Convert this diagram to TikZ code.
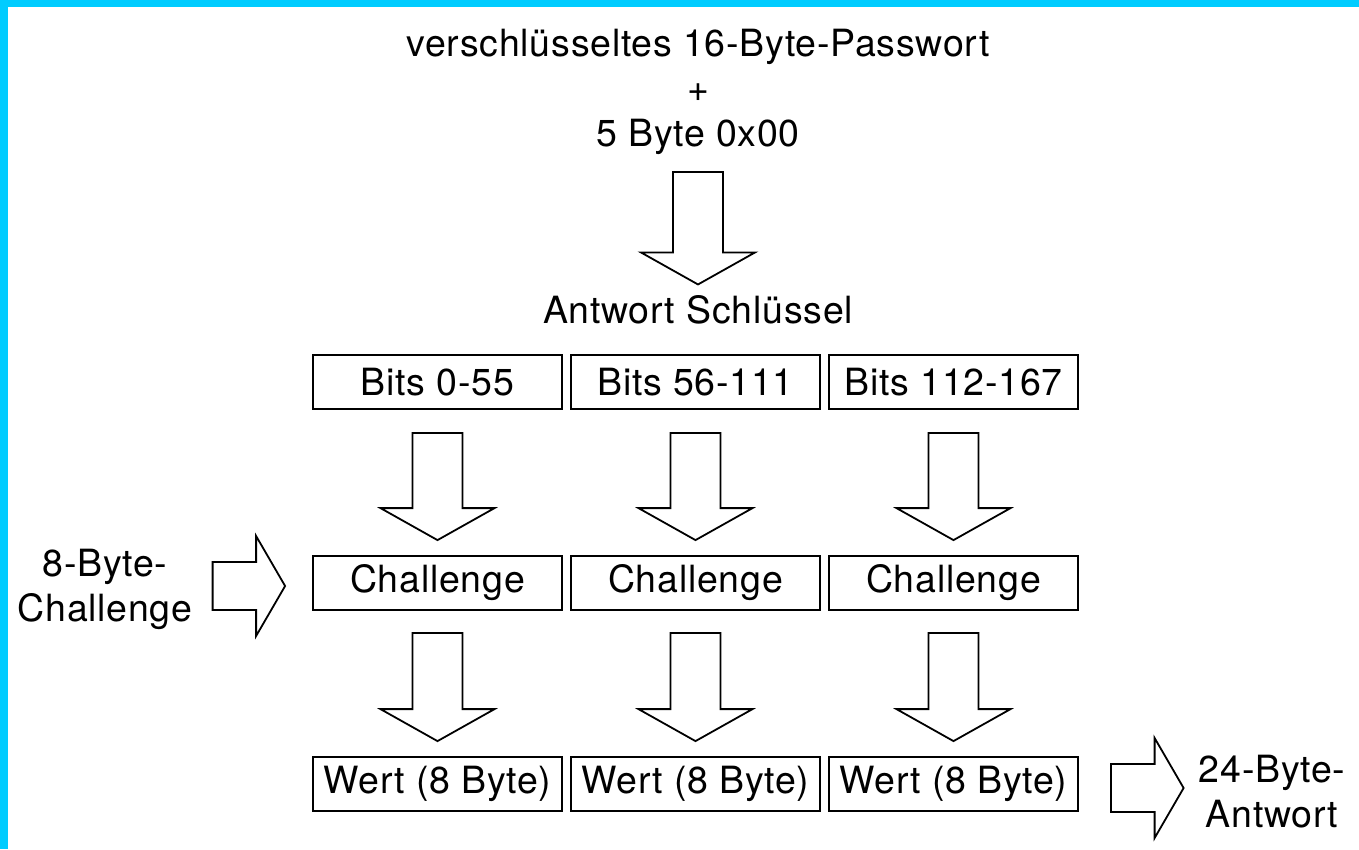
\documentclass[tikz,border=0pt]{standalone}
\usepackage{fontspec}
\setmainfont{TeX Gyre Heros}[LetterSpace=2]
\usepackage{tikz}
\usetikzlibrary{calc}
\definecolor{framecyan}{RGB}{0,204,255}
\tikzstyle{field} = [rectangle, minimum width=249pt, minimum height=54pt, text centered, draw=black, line width=1.8pt]
\tikzstyle{plaintext} = [align=center, inner sep=0pt]
\tikzstyle{fatdown} = [draw=black, line width=1.8pt, to path={let \p1=(\tikztostart), \p2=(\tikztotarget) in
  (\x1-25,\y1) -- (\x1+25,\y1) -- (\x1+25,\y2+32) -- (\x1+57,\y2+32) -- (\x1,\y2) -- (\x1-57,\y2+32) -- (\x1-25,\y2+32) -- cycle}]
\tikzstyle{fatright} = [draw=black, line width=1.8pt, to path={let \p1=(\tikztostart), \p2=(\tikztotarget), \p3=($(\tikztostart)!.5!(\tikztotarget)$) in
  (\x1,\y3+24) -- (\x2-29,\y3+24) -- (\x2-29,\y3+50) -- (\x2,\y3) -- (\x2-29,\y3-50) -- (\x2-29,\y3-24) -- (\x1,\y3-24) -- cycle}]

\begin{document}
\begin{tikzpicture}[x=1pt, y=-1pt, node distance=201pt, font=\fontsize{37.5}{45}\selectfont]
      \useasboundingbox (0,0) rectangle (1359,849);
      \fill[white] (0,0) rectangle (1359,849);
      \fill[framecyan] (0,0) rectangle (1359,7);
      \fill[framecyan] (0,0) rectangle (8,849);

      \node (pw)[plaintext] at (698,92) {verschlüsseltes 16-Byte-Passwort\\+\\5 Byte 0x00};
      \node (ak)[plaintext] at (698,310) {Antwort Schlüssel};

      \node (b1)[field] at (437.5,382) {Bits 0-55};
      \node (b2)[field, right of=b1, xshift=57pt] {Bits 56-111};
      \node (b3)[field, right of=b2, xshift=57pt] {Bits 112-167};
      \node (c1)[field, below of=b1] {Challenge};
      \node (c2)[field, below of=b2] {Challenge};
      \node (c3)[field, below of=b3] {Challenge};
      \node (w1)[field, below of=c1] {Wert (8 Byte)};
      \node (w2)[field, below of=c2] {Wert (8 Byte)};
      \node (w3)[field, below of=c3] {Wert (8 Byte)};

      \node (lc)[plaintext] at (105,589) {8-Byte-\\Challenge};
      \node (ra)[plaintext] at (1272,792) {24-Byte-\\Antwort};

      \draw [fatdown]([yshift=-17pt]pw.south) to ([yshift=11pt]ak.north);
      \draw [fatdown]([yshift=-23pt]b1.south) to ([yshift=15pt]c1.north);
      \draw [fatdown]([yshift=-23pt]b2.south) to ([yshift=15pt]c2.north);
      \draw [fatdown]([yshift=-23pt]b3.south) to ([yshift=15pt]c3.north);
      \draw [fatdown]([yshift=-22pt]c1.south) to ([yshift=15pt]w1.north);
      \draw [fatdown]([yshift=-22pt]c2.south) to ([yshift=15pt]w2.north);
      \draw [fatdown]([yshift=-22pt]c3.south) to ([yshift=15pt]w3.north);
      \draw [fatright]([xshift=20pt]lc.east) to ([xshift=-27pt]c1.west);
      \draw [fatright]([xshift=32pt]w3.east) to ([xshift=-15pt]ra.west);
    \end{tikzpicture}
\end{document}
